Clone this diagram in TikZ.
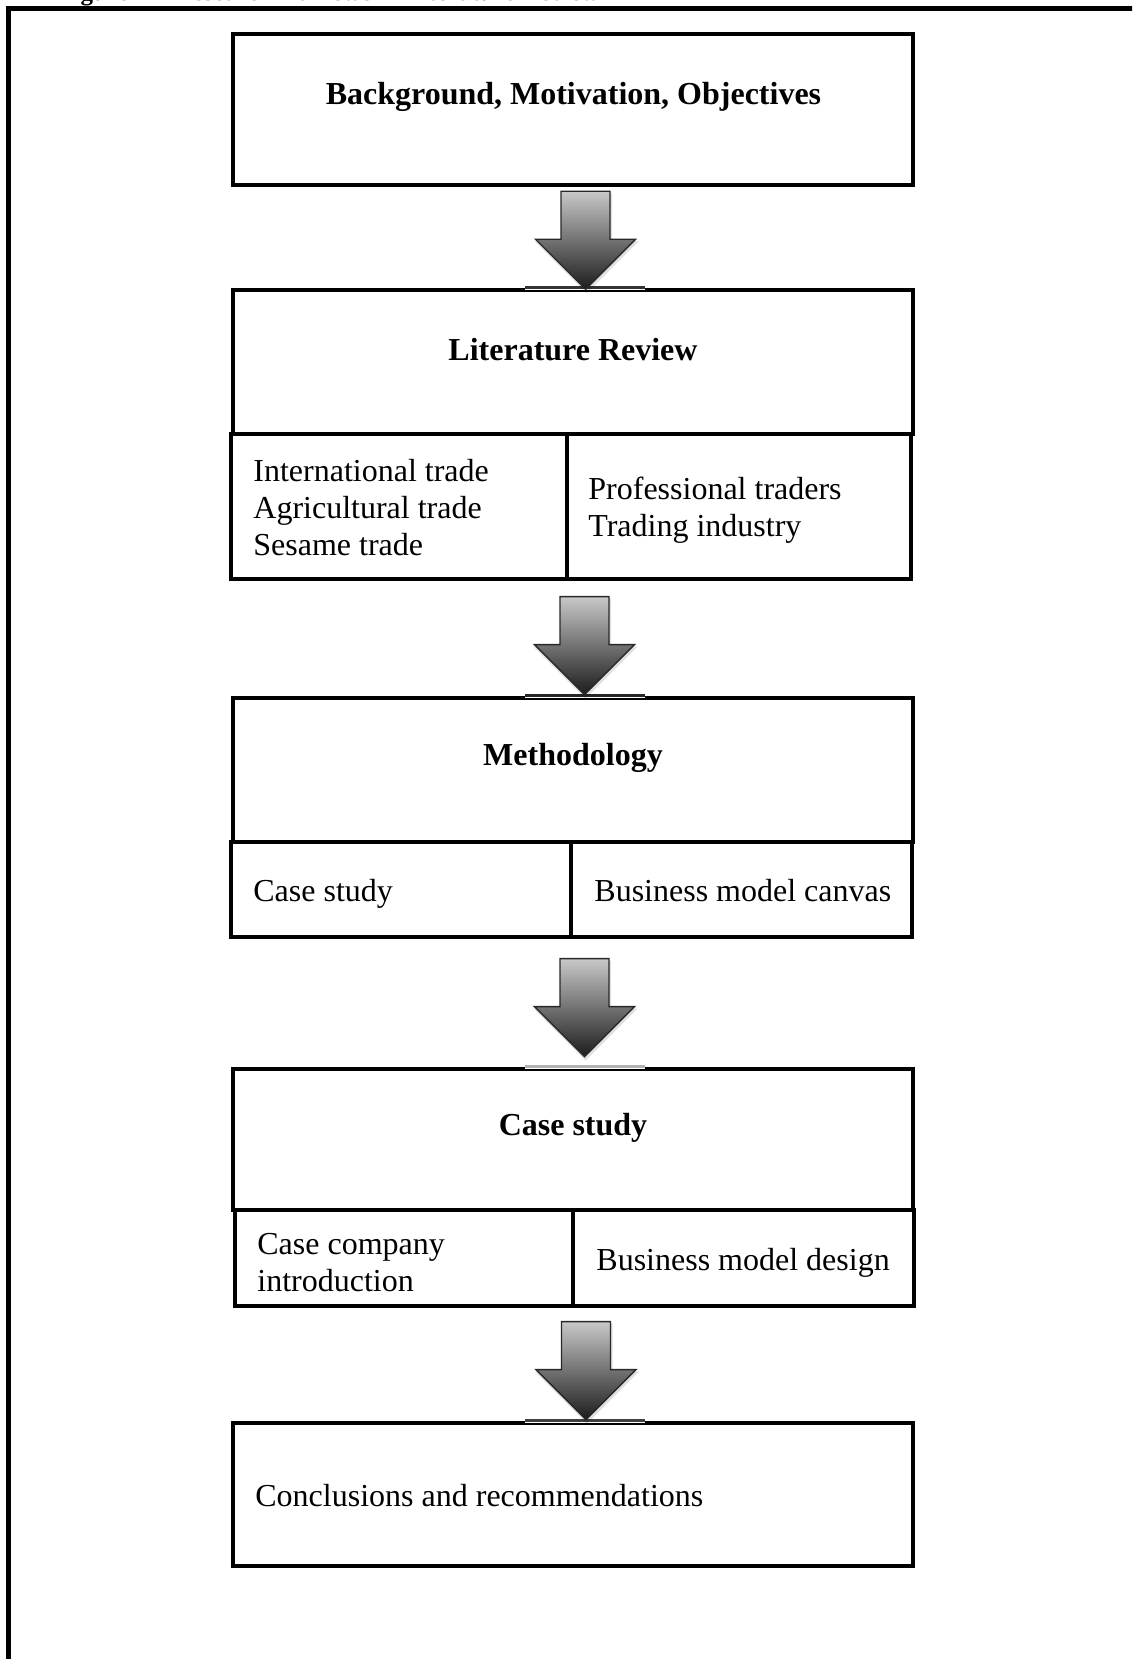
\documentclass[tikz,border=0pt]{standalone}
\usepackage{fontspec}
\setmainfont{Liberation Serif}
\usetikzlibrary{fit,calc}

\tikzset{
  boxline/.style={draw=black, line width=2.25pt, inner sep=0pt, fit={#1}},
  headtext/.style={font=\bfseries\fontsize{16}{18.5}\selectfont, inner sep=0pt},
  bodytext/.style={font=\fontsize{16}{18.5}\selectfont, align=left, anchor=west, inner sep=0pt},
  pics/downarrow/.style={code={
    % soft shadow under the head
    \path[fill=black, opacity=0.12]
      (-24.5,2) -- (26.5,2) -- (26.5,50) -- (53,50) -- (1,102)
      -- (-51,50) -- (-24.5,50) -- cycle;
    \path[top color={rgb,255:red,200;green,200;blue,200},
          bottom color={rgb,255:red,28;green,28;blue,28},
          draw={rgb,255:red,40;green,40;blue,40}, line width=0.7pt, line join=miter]
      (-24.5,0) -- (24.5,0) -- (24.5,48) -- (50,48) -- (0,98)
      -- (-50,48) -- (-24.5,48) -- cycle;
  }},
  seam/.style={line width=1.5pt, draw=#1},
}

\begin{document}
\begin{tikzpicture}[x=0.5pt, y=-0.5pt]
  \useasboundingbox (0,0) rectangle (1132,1659);
  \clip (0,0) rectangle (1132,1659);
  \fill[white] (0,0) rectangle (1132,1659);

  % caption running off the top edge
  \node[anchor=base west, inner sep=0pt, font=\bfseries\fontsize{12.5}{15}\selectfont]
    (caption) at (58,0.5) {Figure 1-1 Research framework Literature Review};

  % outer frame
  \draw[line width=2.5pt] (8.5,1700) -- (8.5,9) -- (1200,9);

  % stage 1
  \node[boxline={(233,34) (913,185)}] (b1) {};
  \node[headtext] (t1) at (573.5,96.5) {Background, Motivation, Objectives};

  % stage 2
  \node[boxline={(233,290) (913,434)}] (b2) {};
  \node[headtext] (t2) at (573,349.5) {Literature Review};
  \node[boxline={(231,434) (567,579)}] (b2l) {};
  \node[boxline={(567,434) (911,579)}] (b2r) {};
  \node[bodytext] (t2l) at (253,508) {International trade\\Agricultural trade\\Sesame trade};
  \node[bodytext] (t2r) at (588,510) {Professional traders\\Trading industry};

  % stage 3
  \node[boxline={(233,698) (913,842)}] (b3) {};
  \node[headtext] (t3) at (573,757.5) {Methodology};
  \node[boxline={(231,842) (571,937)}] (b3l) {};
  \node[boxline={(571,842) (912,937)}] (b3r) {};
  \node[bodytext] (t3l) at (253,894) {Case study};
  \node[bodytext] (t3r) at (594,891) {Business model canvas};

  % stage 4
  \node[boxline={(233,1069) (913,1210)}] (b4) {};
  \node[headtext] (t4) at (573,1127.5) {Case study};
  \node[boxline={(235,1210) (573,1306)}] (b4l) {};
  \node[boxline={(573,1210) (914,1306)}] (b4r) {};
  \node[bodytext] (t4l) at (257,1263) {Case company\\introduction};
  \node[bodytext] (t4r) at (596,1263) {Business model design};

  % stage 5
  \node[boxline={(233,1423) (913,1566)}] (b5) {};
  \node[bodytext] (t5) at (255,1496) {Conclusions and recommendations};

  % groups spanning each stage with its sub-boxes
  \node[fit=(b2)(b2l)(b2r), inner sep=0pt] (g2) {};
  \node[fit=(b3)(b3l)(b3r), inner sep=0pt] (g3) {};
  \node[fit=(b4)(b4l)(b4r), inner sep=0pt] (g4) {};

  % block arrows between the stages
  \foreach \src/\dst/\gap/\seamcol in {b1/b2/4/black!80, g2/b3/15/black!85,
                                      g3/b4/19/black!30, g4/b5/13/black!75}{
    \draw[white, line width=2.6pt] ($(\dst.north)+(-48,0)$) -- ($(\dst.north)+(72,0)$);
    \draw[seam=\seamcol] ($(\dst.north)+(-48,0)$) -- ($(\dst.north)+(72,0)$);
    \pic at ($(\src.south)+(12.5,\gap)$) {downarrow};
  }
\end{tikzpicture}
\end{document}
